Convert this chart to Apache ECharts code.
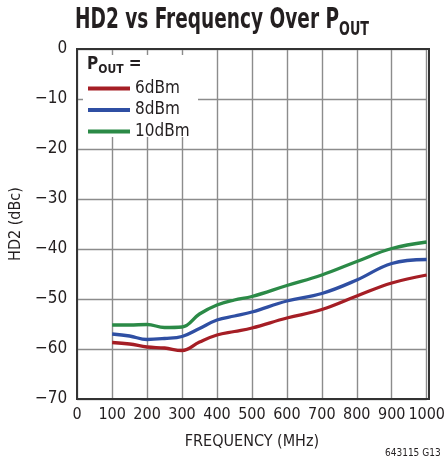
<!DOCTYPE html>
<html><head><meta charset="utf-8">
<script src="https://cdn.jsdelivr.net/npm/echarts@6/dist/echarts.min.js"></script>
<style>html,body{margin:0;padding:0;background:#fff}#c{width:448px;height:465px}</style>
</head><body><div id="c"></div>
<script>
const freq = [100,150,200,250,300,350,400,450,500,600,700,800,900,1000];
const hd2_6dBm  = [-58.7,-59.0,-59.6,-59.8,-60.3,-58.6,-57.2,-56.5,-55.8,-53.8,-52.1,-49.4,-46.8,-45.2];
const hd2_8dBm  = [-57.0,-57.4,-58.1,-57.9,-57.5,-55.9,-54.2,-53.4,-52.6,-50.4,-48.9,-46.2,-42.9,-42.1];
const hd2_10dBm = [-55.2,-55.2,-55.1,-55.7,-55.6,-53.0,-51.2,-50.2,-49.5,-47.3,-45.2,-42.5,-39.9,-38.6];
const seriesNames = ['6dBm','8dBm','10dBm'];
const seriesColors = ['#a51e25','#2f4fa3','#2b8a47'];
const xTicks = [0,100,200,300,400,500,600,700,800,900,1000];
const yTicks = [0,-10,-20,-30,-40,-50,-60,-70];

const FONT = "'DejaVu Sans Condensed',sans-serif";
const TXT = '#231f20';
const chart = echarts.init(document.getElementById('c'));
const allData = [hd2_6dBm, hd2_8dBm, hd2_10dBm];
chart.setOption({
  animation:false,
  grid:{left:77,right:19,top:49,bottom:66,containLabel:false},
  xAxis:{
    type:'value',min:xTicks[0],max:xTicks[xTicks.length-1],interval:100,
    name:'FREQUENCY (MHz)',nameLocation:'middle',nameGap:35,
    nameTextStyle:{fontFamily:FONT,fontSize:16,color:TXT},
    axisLine:{lineStyle:{color:'#333',width:2}},
    axisTick:{show:false},
    axisLabel:{fontFamily:FONT,fontSize:16,color:TXT,margin:8,formatter:v=>String(v)},
    splitLine:{show:true,lineStyle:{color:'#8c8c8c',width:1.4}}
  },
  yAxis:{
    type:'value',min:yTicks[yTicks.length-1],max:yTicks[0],interval:10,
    name:'HD2 (dBc)',nameLocation:'middle',nameGap:52,
    nameTextStyle:{fontFamily:FONT,fontSize:16,color:TXT},
    axisLine:{show:true,lineStyle:{color:'#333',width:2}},
    axisTick:{show:false},
    axisLabel:{fontFamily:FONT,fontSize:17,color:TXT,margin:10,
      formatter:v=>String(v).replace('-','\u2212')},
    splitLine:{show:true,lineStyle:{color:'#8c8c8c',width:1.4}}
  },
  graphic:[
    {type:'text',z:6,x:75,y:3,scaleX:0.71,style:{
      text:'{a|HD2 vs Frequency Over P}{b|OUT}',
      rich:{a:{fontFamily:FONT,fontWeight:'bold',fontSize:29,fill:TXT,verticalAlign:'bottom',lineHeight:32},
            b:{fontFamily:FONT,fontWeight:'bold',fontSize:20,fill:TXT,verticalAlign:'bottom',lineHeight:24,padding:[0,0,-5,0]}}
    }},
    {type:'rect',z:5,shape:{x:83,y:55,width:115,height:82},style:{fill:'#fff'}},
    {type:'text',left:87,top:56,z:6,style:{
      text:'{a|P}{b|OUT}{a| =}',
      rich:{a:{fontFamily:FONT,fontWeight:'bold',fontSize:17,fill:TXT,verticalAlign:'bottom',lineHeight:19},
            b:{fontFamily:FONT,fontWeight:'bold',fontSize:12,fill:TXT,verticalAlign:'bottom',lineHeight:15,padding:[0,0,-3,0]}}
    }},
    {type:'rect',z:7,shape:{x:77,y:49,width:352,height:350},style:{fill:'none',stroke:'#333',lineWidth:2}}
  ],
  legend:{
    orient:'vertical',left:88,top:80,z:8,padding:0,
    itemWidth:42,itemHeight:4,itemGap:4.5,
    icon:'rect',
    textStyle:{fontFamily:FONT,fontSize:17,color:TXT,padding:[0,0,0,0],lineHeight:16},
    data:seriesNames
  },
  series:seriesNames.map((n,i)=>({
    name:n,type:'line',smooth:0.4,symbol:'none',
    data:freq.map((f,j)=>[f,allData[i][j]]),
    lineStyle:{color:seriesColors[i],width:3.3},
    itemStyle:{color:seriesColors[i]}
  }))
});
</script>
<div style="position:absolute;left:385px;top:447px;font:10px 'DejaVu Sans Condensed',sans-serif;color:#231f20">643115 G13</div>
</body></html>
